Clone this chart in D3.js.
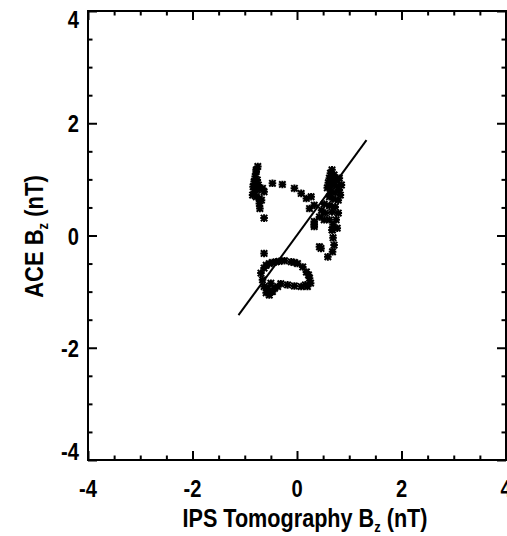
<!DOCTYPE html>
<html><head><meta charset="utf-8">
<script src="https://cdn.jsdelivr.net/npm/d3@7"></script>
<style>
body{margin:0;background:#fff;}
svg text{font-family:"Liberation Sans",Arial,sans-serif;font-weight:bold;fill:#000;}
</style></head>
<body><svg id="c" width="507" height="536"></svg>
<script>
// IPS tomography Bz (x) vs ACE Bz (y), nT
const ipsBz = [
 -0.75,-0.78,-0.78,-0.80,-0.82,-0.84,-0.82,-0.78,-0.72,-0.66,-0.63,-0.76,-0.72,-0.71,-0.68,-0.76,-0.85,-0.74,-0.63,
 -0.47,-0.28,-0.05,0.08,0.18,0.24,0.33,0.43,0.59,-0.63,
 -0.53,-0.40,-0.24,-0.11,0.01,0.11,0.18,0.24,0.26,0.20,0.08,-0.05,-0.18,-0.31,-0.37,-0.47,-0.53,-0.59,-0.63,-0.66,-0.69,-0.63,-0.59,-0.47,-0.34,-0.05,-0.56,-0.50,-0.43,0.16,0.22,
 0.67,0.64,0.71,0.62,0.69,0.77,0.60,0.67,0.75,0.81,0.58,0.65,0.73,0.83,0.62,0.69,0.79,0.85,0.81,
 0.52,0.62,0.73,0.47,0.54,0.67,0.79,0.43,0.52,0.62,0.75,0.69,0.77,0.67,
 0.27,0.33,0.33,0.68,0.69,0.71,0.68,0.46,0.33
];
const aceBz = [
 1.23,1.17,1.14,1.05,0.96,0.87,0.78,0.69,0.66,0.84,0.78,0.81,0.57,0.48,0.63,0.99,0.72,0.90,0.31,
 0.93,0.91,0.84,0.75,0.66,0.48,0.19,-0.20,-0.38,-0.32,
 -0.50,-0.47,-0.45,-0.47,-0.50,-0.56,-0.65,-0.76,-0.85,-0.91,-0.91,-0.90,-0.88,-0.86,-0.91,-1.00,-1.06,-1.02,-0.91,-0.79,-0.67,-0.58,-0.53,-0.48,-0.46,-0.48,-0.94,-0.85,-0.94,-0.88,-0.70,
 1.17,1.11,1.08,1.02,0.99,0.99,0.94,0.90,0.88,0.81,0.85,0.79,0.76,0.72,0.69,0.65,0.63,0.90,1.02,
 0.56,0.53,0.51,0.45,0.40,0.42,0.40,0.33,0.28,0.28,0.28,0.19,0.13,0.10,
 0.69,0.54,0.25,0.10,-0.04,-0.17,-0.29,-0.23,0.16
];
const fitX = [-1.12, 1.33];
const fitY = [-1.42, 1.70];
const majorTicks = [-4,-2,0,2,4];
const minorTicks = d3.range(-4, 4.01, 0.5).filter(v => Math.abs(v % 2) > 1e-9);
const xTitle = "IPS Tomography B";
const yTitle = "ACE B";
const sub = "z";
const unit = " (nT)";

const svg = d3.select("#c");
const L = 88, R = 506, T = 11, B = 460;
const x = d3.scaleLinear().domain([-4,4]).range([L,R]);
const y = d3.scaleLinear().domain([-4,4]).range([B,T]);
const g = svg.append("g");

// fit line
g.append("line").attr("x1",x(fitX[0])).attr("y1",y(fitY[0])).attr("x2",x(fitX[1])).attr("y2",y(fitY[1]))
 .attr("stroke","#000").attr("stroke-width",2);

// points (asterisk markers)
const r = 3.2;
const star = `M${-r},${-r}L${r},${r}M${-r},${r}L${r},${-r}M0,${-r-0.6}L0,${r+0.6}M${-r-0.6},0L${r+0.6},0`;
g.selectAll("path.pt").data(ipsBz.map((v,i)=>[v,aceBz[i]])).join("path").attr("class","pt")
 .attr("d",star).attr("transform",d=>`translate(${x(d[0])},${y(d[1])})`)
 .attr("stroke","#000").attr("stroke-width",2).attr("fill","none");

// axes
function ax(axisGen, tr, ticks, size){
  const a = svg.append("g").attr("transform",tr).call(axisGen.tickValues(ticks).tickSize(size).tickFormat(""));
  a.select(".domain").remove();
  a.selectAll("line").attr("stroke","#000").attr("stroke-width",2);
  return a;
}
ax(d3.axisTop(x), `translate(0,${B})`, majorTicks, 9);
ax(d3.axisTop(x), `translate(0,${B})`, minorTicks, 4.5);
ax(d3.axisBottom(x), `translate(0,${T})`, majorTicks, 9);
ax(d3.axisBottom(x), `translate(0,${T})`, minorTicks, 4.5);
ax(d3.axisRight(y), `translate(${L},0)`, majorTicks, 9);
ax(d3.axisRight(y), `translate(${L},0)`, minorTicks, 4.5);
ax(d3.axisLeft(y), `translate(${R},0)`, majorTicks, 9);
ax(d3.axisLeft(y), `translate(${R},0)`, minorTicks, 4.5);
svg.append("rect").attr("x",L).attr("y",T).attr("width",R-L).attr("height",B-T)
 .attr("fill","none").attr("stroke","#000").attr("stroke-width",2);

// tick labels (condensed look via horizontal scale)
const fs = 24, sx = 0.84;
svg.append("g").selectAll("text").data(majorTicks).join("text")
 .attr("transform",d=>`translate(${x(d)},497) scale(${sx},1)`).attr("text-anchor","middle").attr("font-size",fs).text(d=>d);
svg.append("g").selectAll("text").data(majorTicks).join("text")
 .attr("transform",d=>`translate(79,${d===4 ? 28 : d===-4 ? 460 : y(d)+9}) scale(${sx},1)`)
 .attr("text-anchor","end").attr("font-size",fs).text(d=>d);

// titles
const xt = svg.append("text").attr("transform","translate(305,527) scale(0.865,1)").attr("text-anchor","middle").attr("font-size",25);
xt.append("tspan").text(xTitle);
xt.append("tspan").attr("font-size",15).attr("dy",5).text(sub);
xt.append("tspan").attr("dy",-5).text(unit);

const yt = svg.append("text").attr("transform","translate(43,236.5) rotate(-90) scale(0.88,1)").attr("text-anchor","middle").attr("font-size",25);
yt.append("tspan").text(yTitle);
yt.append("tspan").attr("font-size",15).attr("dy",5).text(sub);
yt.append("tspan").attr("dy",-5).text(unit);
</script></body></html>
